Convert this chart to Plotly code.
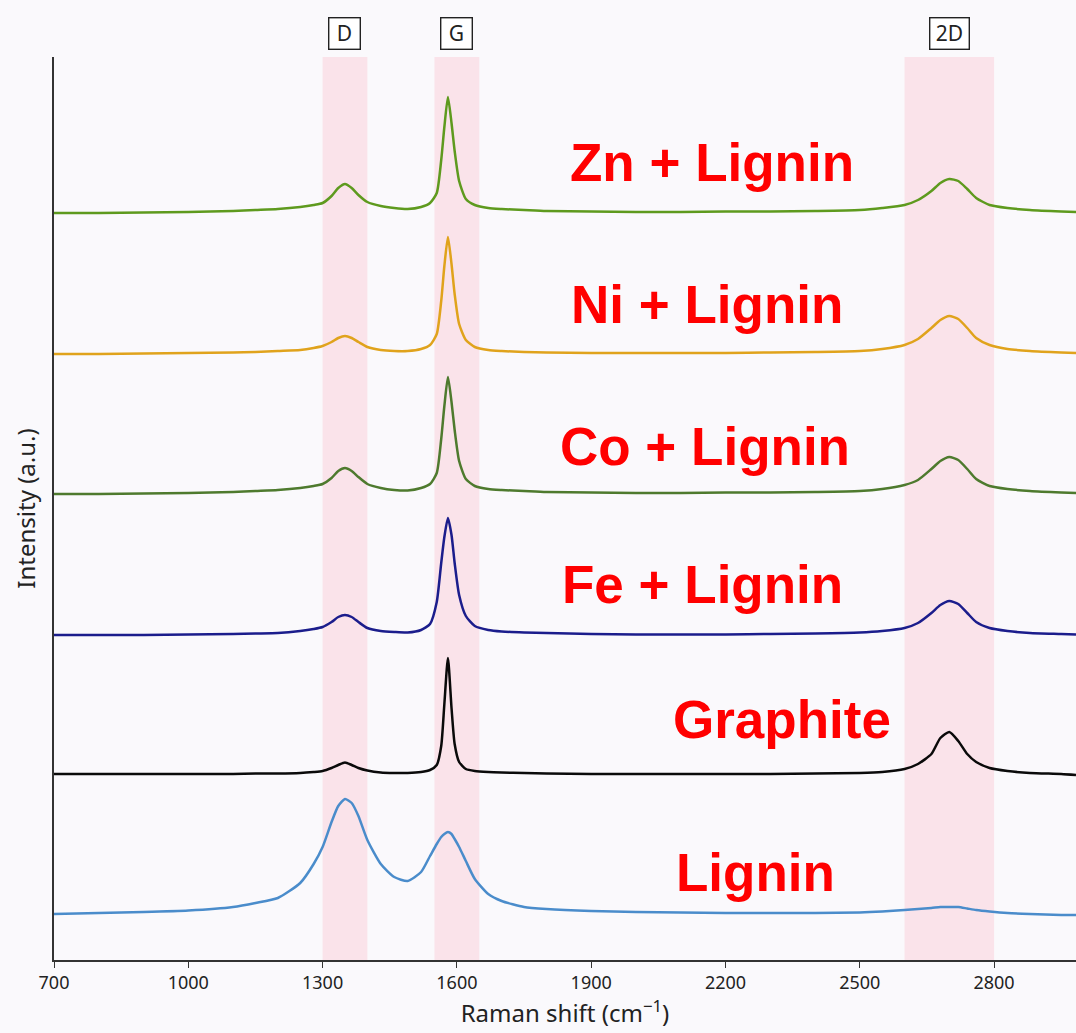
import plotly.graph_objects as go

# ---- data ----
raman_shift = [700, 800, 900, 1000, 1100, 1150, 1200, 1250, 1280, 1300,
               1320, 1335, 1350, 1365, 1380, 1400, 1430, 1460, 1490, 1520,
               1540, 1555, 1565, 1572, 1580, 1588, 1595, 1605, 1620, 1640,
               1670, 1700, 1750, 1800, 1900, 2000, 2100, 2200, 2300, 2400,
               2500, 2550, 2600, 2630, 2660, 2680, 2700, 2720, 2740, 2760,
               2790, 2830, 2880, 2950, 2983]

zn_lignin = [0, 0, 0.5, 1, 2, 3, 4, 6, 8, 10,
             17, 25, 29, 25, 18, 11, 7, 5, 4, 6,
             10, 20, 53, 86, 116, 90, 62, 32, 14, 8,
             5, 4, 3, 2, 1.5, 1, 1, 1.5, 1.5, 2,
             3, 5, 8, 13, 22, 30, 34, 32, 24, 15,
             8, 5, 3, 1.5, 1]

ni_lignin = [0, 0, 0.5, 1, 1.5, 2, 3, 4, 6, 8,
             12, 16, 18, 16, 12, 7, 4, 3, 3, 5,
             9, 20, 53, 88, 117, 90, 60, 30, 14, 7,
             4, 3, 2, 1.5, 1, 1, 1, 1, 1.5, 2,
             3, 5, 9, 15, 26, 34, 38, 35, 26, 16,
             9, 5, 3, 1.5, 1]

co_lignin = [0, 0, 0.5, 1, 2, 3, 4, 6, 8, 10,
             16, 23, 26, 23, 17, 10, 6, 4, 3.5, 6,
             10, 21, 55, 88, 117, 92, 64, 33, 15, 8,
             5, 4, 3, 2, 1.5, 1, 1, 1.5, 1.5, 2,
             3, 5, 9, 14, 25, 33, 37, 34, 25, 15,
             8, 5, 3, 1.5, 1]

fe_lignin = [0, 0, 0, 0.5, 1, 1.5, 2, 4, 6, 8,
             13, 18, 20, 18, 13, 7, 4, 3, 2.5, 5,
             11, 33, 72, 98, 117, 100, 72, 40, 19, 9,
             5, 3.5, 2.5, 2, 1, 0.5, 0.5, 0.5, 1, 1.5,
             2.5, 4, 7, 12, 22, 30, 34, 31, 22, 13,
             7, 4, 2, 1, 0.5]

graphite = [0, 0, 0, 0, 0, 0.5, 0.5, 1, 2, 3,
            6, 9, 11.5, 9, 6, 3.5, 1.5, 1, 1, 2,
            4, 9, 28, 70, 116, 66, 30, 12, 5, 3,
            2, 1.5, 1, 0.5, 0, 0, 0, 0, 0, 0.5,
            1, 2, 5, 10, 20, 36, 42, 33, 20, 12,
            6, 3, 1, 0, -1]

lignin = [0, 1, 2, 3.5, 7, 11, 16, 31, 50, 67,
          92, 108, 115, 111, 98, 74, 50, 37, 33, 42,
          58, 70, 77, 80, 82, 80, 75, 67, 53, 35,
          20, 13, 7, 5, 3, 2, 1.5, 1, 1, 1,
          1.5, 2.5, 4, 5, 6, 7, 7, 7, 5.5, 4,
          2.5, 1, 0, -1, -1]

series_names = ["Zn + Lignin", "Ni + Lignin", "Co + Lignin", "Fe + Lignin", "Graphite", "Lignin"]
series_values = [zn_lignin, ni_lignin, co_lignin, fe_lignin, graphite, lignin]
stack_offsets = [747, 606, 466, 325, 186, 46]
series_colors = ["#5e9a1e", "#e0a31c", "#4e7a2e", "#1b1d8c", "#0a0a0a", "#4a8ccb"]

band_names = ["D", "G", "2D"]
band_ranges = [(1300, 1400), (1550, 1650), (2600, 2800)]

tick_values = [700, 1000, 1300, 1600, 1900, 2200, 2500, 2800]

label_positions = [(2170, 798), (2159, 656), (2154, 514), (2148, 376), (2326, 241), (2268, 88)]

# ---- figure ----
fig = go.Figure()

for name, vals, off, col in zip(series_names, series_values, stack_offsets, series_colors):
    fig.add_trace(go.Scatter(
        x=raman_shift, y=[v + off for v in vals], mode="lines", name=name,
        line=dict(color=col, width=2.5, shape="spline", smoothing=0.6),
        showlegend=False,
    ))

for (x0, x1), bname in zip(band_ranges, band_names):
    fig.add_shape(type="rect", xref="x", yref="paper", x0=x0, x1=x1, y0=0, y1=1,
                  fillcolor="rgba(250,200,212,0.45)", line=dict(width=0), layer="below")
    fig.add_annotation(x=(x0 + x1) / 2, xref="x", y=1.026, yref="paper",
                       text=bname, showarrow=False, yanchor="middle",
                       width=(26 if len(bname) == 1 else 34), height=26,
                       font=dict(family="Noto Sans", size=21, color="#222"),
                       bordercolor="#222", borderwidth=1.4, borderpad=2, bgcolor="#ffffff")

for name, (lx, ly) in zip(series_names, label_positions):
    fig.add_annotation(x=lx, y=ly, xref="x", yref="y", text="<b>" + name + "</b>",
                       showarrow=False,
                       font=dict(family="Liberation Sans, Arial", size=53, color="#ff0000"))

fig.update_layout(
    width=1076, height=1033,
    margin=dict(l=54, r=0, t=57, b=73),
    paper_bgcolor="#faf9fc", plot_bgcolor="#faf9fc",
    font=dict(family="Noto Sans", color="#222"),
)
fig.update_xaxes(
    range=[700, 2983], tickvals=tick_values, ticks="outside", ticklen=6, tickwidth=1.3,
    tickcolor="#333", showline=True, linecolor="#333", linewidth=1.5, showgrid=False,
    zeroline=False, tickfont=dict(size=18, color="#222"),
    title=dict(text="Raman shift (cm<sup>−1</sup>)", font=dict(size=24, color="#222"), standoff=6),
)
fig.update_yaxes(
    range=[0, 903], showticklabels=False, ticks="", showline=True, linecolor="#333",
    linewidth=1.5, showgrid=False, zeroline=False,
    title=dict(text="Intensity (a.u.)", font=dict(size=24, color="#222"), standoff=10),
)

fig.write_html("out.html")
